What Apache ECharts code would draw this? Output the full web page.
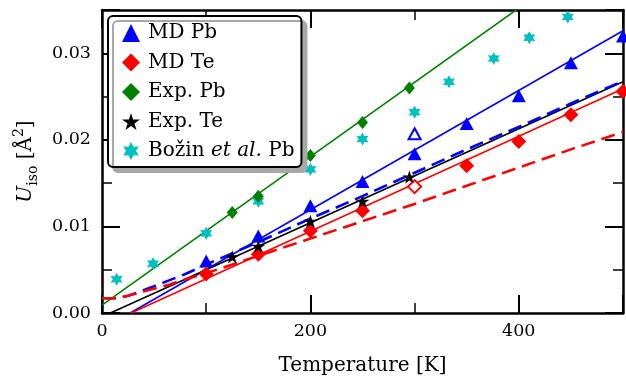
<!DOCTYPE html>
<html><head><meta charset="utf-8">
<script src="https://cdn.jsdelivr.net/npm/echarts@6/dist/echarts.min.js"></script>
<style>html,body{margin:0;padding:0;background:#fff}#c{width:626px;height:381px}</style>
</head><body><div id="c"></div>
<script>
// ---- data ----
const mdPbT = [100, 150, 200, 250, 300, 350, 400, 450, 500];
const mdPbU = [0.0060, 0.0089, 0.0124, 0.0152, 0.0184, 0.0219, 0.0251, 0.0289, 0.0320];
const mdPbOpenT = [300];
const mdPbOpenU = [0.0207];
const mdTeT = [100, 150, 200, 250, 350, 400, 450, 500];
const mdTeU = [0.0045, 0.0068, 0.0095, 0.0118, 0.0170, 0.0198, 0.0229, 0.0256];
const mdTeOpenT = [300];
const mdTeOpenU = [0.0146];
const expPbT = [125, 150, 200, 250, 295];
const expPbU = [0.0116, 0.0135, 0.0182, 0.0220, 0.0260];
const expTeT = [125, 150, 200, 250, 295];
const expTeU = [0.0065, 0.0077, 0.0106, 0.0129, 0.0157];
const bozinT = [14, 49, 100, 150, 200, 250, 300, 333, 376, 410, 447];
const bozinU = [0.0039, 0.0057, 0.0092, 0.0129, 0.0166, 0.0201, 0.0232, 0.0267, 0.0294, 0.0318, 0.0342];
// linear fits (end points)
const fitMdPbT = [27, 500];      const fitMdPbU = [0, 0.0326];
const fitMdTeT = [28, 500];      const fitMdTeU = [0, 0.0259];
const fitExpPbT = [0, 500];      const fitExpPbU = [0.0009, 0.0438];
const fitExpTeT = [8, 500];      const fitExpTeU = [0, 0.0267];
// dashed model curves
const dashPbT = [0, 15, 25, 37, 50, 65, 80, 100, 150, 200, 250, 300, 350, 400, 450, 500];
const dashPbU = [0.0017, 0.0017, 0.0020, 0.0025, 0.0031, 0.0038, 0.0045, 0.0056, 0.0082, 0.0109, 0.0135, 0.0162, 0.0189, 0.0215, 0.0242, 0.0268];
const dashTeT = [0, 15, 25, 37, 50, 65, 80, 100, 150, 200, 250, 300, 350, 400, 450, 500];
const dashTeU = [0.0017, 0.0017, 0.0020, 0.0024, 0.0028, 0.0033, 0.0039, 0.0046, 0.0066, 0.0086, 0.0106, 0.0126, 0.0147, 0.0168, 0.0189, 0.0209];
const xTicks = [0, 200, 400];
const yTicks = [0.00, 0.01, 0.02, 0.03];
const legendNames = ['MD Pb', 'MD Te', 'Exp. Pb', 'Exp. Te', 'Božin et al. Pb'];

const zip = (a, b) => a.map((v, i) => [v, b[i]]);
function starPath(n, rin) {
  const pts = [];
  for (let i = 0; i < 2 * n; i++) {
    const a = -Math.PI / 2 + i * Math.PI / n;
    const r = i % 2 === 0 ? 1 : rin;
    pts.push((r * Math.cos(a)).toFixed(4) + ' ' + (r * Math.sin(a)).toFixed(4));
  }
  return 'path://M' + pts.join(' L') + ' Z';
}
const star5 = starPath(5, 0.382);
const star6 = starPath(6, 0.55);
const FONT = 'DejaVu Serif';

function axisCommon(pos) {
  return {
    position: pos,
    axisLine: { show: true, onZero: false, lineStyle: { color: '#000', width: 2.5 } },
    axisTick: { show: true, inside: true, length: 18, lineStyle: { color: '#000', width: 2 } },
    minorTick: { show: true, splitNumber: 2, length: 10, lineStyle: { color: '#000', width: 1.5 } },
    splitLine: { show: false },
    minorSplitLine: { show: false }
  };
}

const chart = echarts.init(document.getElementById('c'), null, { renderer: 'canvas' });
const lineSeries = (name, T, U, color, dashed, z) => ({
  name: name, type: 'line', data: zip(T, U), showSymbol: false, silent: true,
  lineStyle: { color: color, width: dashed ? 2.6 : 1.6, type: dashed ? [14, 7] : 'solid' },
  itemStyle: { color: color }, z: z, animation: false, clip: true
});

chart.setOption({
  animation: false,
  backgroundColor: '#fff',
  grid: { left: 102, right: -1, top: 10, bottom: 65 },
  xAxis: [
    Object.assign(axisCommon('bottom'), {
      type: 'value', min: 0, max: 500, interval: 200,
      axisLabel: { show: true, margin: 9, color: '#000', fontFamily: FONT, fontSize: 17.5,
        formatter: v => xTicks.indexOf(v) >= 0 ? String(v) : '' },
      name: 'Temperature [K]', nameLocation: 'middle', nameGap: 43,
      nameTextStyle: { color: '#000', fontFamily: FONT, fontSize: 20 }
    }),
    Object.assign(axisCommon('top'), {
      type: 'value', min: 0, max: 500, interval: 200, axisLabel: { show: false }
    })
  ],
  yAxis: [
    Object.assign(axisCommon('left'), {
      type: 'value', min: 0, max: 0.035, interval: 0.01,
      axisLabel: { show: true, margin: 11, color: '#000', fontFamily: FONT, fontSize: 17.5,
        formatter: v => { const k = yTicks.findIndex(t => Math.abs(t - v) < 1e-9); return k >= 0 ? yTicks[k].toFixed(2) : ''; } },
      name: '{u|U}{s|iso}{n| [Å}{p|2}{n|]}', nameLocation: 'middle', nameGap: 62, nameRotate: 90,
      nameTextStyle: { color: '#000', fontFamily: FONT, fontSize: 20,
        rich: {
          u: { fontFamily: FONT, fontSize: 20, fontStyle: 'italic', lineHeight: 28, verticalAlign: 'middle', color: '#000' },
          n: { fontFamily: FONT, fontSize: 20, lineHeight: 28, verticalAlign: 'middle', color: '#000' },
          s: { fontFamily: FONT, fontSize: 14, lineHeight: 14, verticalAlign: 'bottom', color: '#000' },
          p: { fontFamily: FONT, fontSize: 14, lineHeight: 14, verticalAlign: 'top', color: '#000' }
        } }
    }),
    Object.assign(axisCommon('right'), {
      type: 'value', min: 0, max: 0.035, interval: 0.01, axisLabel: { show: false }
    })
  ],
  legend: {
    orient: 'vertical', left: 108, top: 16,
    data: legendNames,
    selectedMode: false,
    itemWidth: 18, itemHeight: 18, itemGap: 9.5,
    padding: [7, 7, 6, 14],
    backgroundColor: '#fff', borderColor: '#000', borderWidth: 2, borderRadius: 5,
    shadowColor: '#a8a8a8', shadowOffsetX: 5, shadowOffsetY: 5, shadowBlur: 0,
    formatter: name => name === 'Božin et al. Pb' ? '{n|Božin }{i|et al.}{n| Pb}' : name,
    textStyle: { fontFamily: FONT, fontSize: 20, color: '#000', lineHeight: 20, padding: [0, 0, 0, 3],
      rich: {
        n: { fontFamily: FONT, fontSize: 20, color: '#000', lineHeight: 20 },
        i: { fontFamily: FONT, fontSize: 20, fontStyle: 'italic', color: '#000', lineHeight: 20 }
      } }
  },
  series: [
    lineSeries('fitExpPb', fitExpPbT, fitExpPbU, '#008000', false, 2),
    lineSeries('fitMdPb', fitMdPbT, fitMdPbU, '#0000ff', false, 2),
    lineSeries('fitMdTe', fitMdTeT, fitMdTeU, '#ff0000', false, 2),
    lineSeries('fitExpTe', fitExpTeT, fitExpTeU, '#000000', false, 2),
    lineSeries('dashPb', dashPbT, dashPbU, '#0000ff', true, 2),
    lineSeries('dashTe', dashTeT, dashTeU, '#ff0000', true, 2),
    { name: 'Božin et al. Pb', type: 'scatter', data: zip(bozinT, bozinU), symbol: star6, symbolSize: [12, 13],
      itemStyle: { color: '#00bfbf', opacity: 1 }, z: 3 },
    { name: 'MD Pb', type: 'scatter', data: zip(mdPbT, mdPbU), symbol: 'triangle', symbolSize: [14, 13],
      itemStyle: { color: '#0000ff', opacity: 1 }, z: 3 },
    { name: 'MD Pb open', type: 'scatter', data: zip(mdPbOpenT, mdPbOpenU), symbol: 'triangle', symbolSize: [12, 11],
      itemStyle: { color: '#fff', borderColor: '#0000ff', borderWidth: 2, opacity: 1 }, z: 3 },
    { name: 'MD Te', type: 'scatter', data: zip(mdTeT, mdTeU), symbol: 'diamond', symbolSize: [15, 15],
      itemStyle: { color: '#ff0000', opacity: 1 }, z: 3 },
    { name: 'MD Te open', type: 'scatter', data: zip(mdTeOpenT, mdTeOpenU), symbol: 'diamond', symbolSize: [13, 13],
      itemStyle: { color: '#fff', borderColor: '#ff0000', borderWidth: 2, opacity: 1 }, z: 3 },
    { name: 'Exp. Pb', type: 'scatter', data: zip(expPbT, expPbU), symbol: 'diamond', symbolSize: [11, 13],
      itemStyle: { color: '#008000', opacity: 1 }, z: 3 },
    { name: 'Exp. Te', type: 'scatter', data: zip(expTeT, expTeU), symbol: star5, symbolSize: [14, 13],
      itemStyle: { color: '#000000', opacity: 1 }, z: 4 }
  ]
});
</script></body></html>
